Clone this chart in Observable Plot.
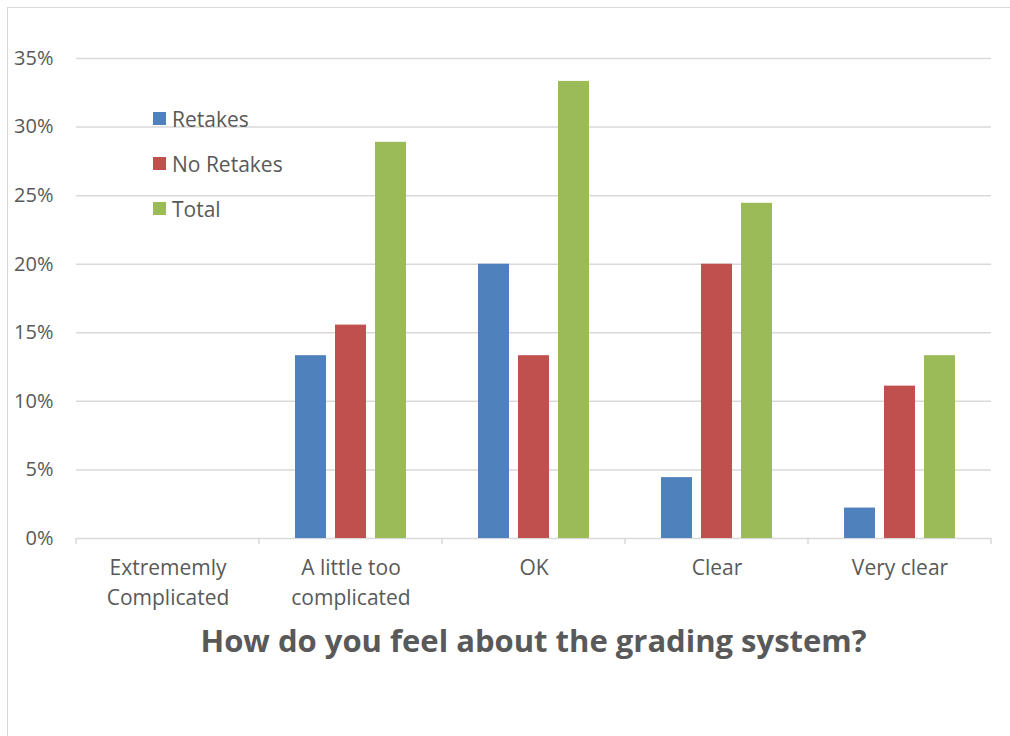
<!DOCTYPE html>
<html>
<head>
<meta charset="utf-8">
<script src="https://cdn.jsdelivr.net/npm/d3@7"></script>
<script src="https://cdn.jsdelivr.net/npm/@observablehq/plot@0.6"></script>
<style>
  html, body { margin: 0; padding: 0; background: #fff; overflow: hidden; }
  body { width: 1010px; height: 736px; position: relative; font-family: "Open Sans", sans-serif; color: #595959; }
  #border { position: absolute; left: 7px; top: 7px; width: 1100px; height: 800px;
            border-left: 1.5px solid #d9d9d9; border-top: 1.5px solid #d9d9d9; }
  #chart { position: absolute; left: 0; top: 0; }
  #title { position: absolute; left: 75px; width: 917px; top: 619px; text-align: center;
           font-weight: 700; font-size: 31px; color: #595959; }
  #legend { position: absolute; left: 153px; top: 105px; font-size: 21px; color: #595959; }
  .item { display: flex; align-items: center; height: 45px; margin-top: 0; }
  .item:first-child { margin-top: -9px; }
  .swatch { width: 13px; height: 13px; margin-right: 6px; }
</style>
</head>
<body>
<div id="border"></div>
<div id="chart"></div>
<div id="legend"></div>
<div id="title">How do you feel about the grading system?</div>
<script>
// Survey answers, share of respondents per group
const categories = ["Extrememly\nComplicated", "A little too\ncomplicated", "OK", "Clear", "Very clear"];
const seriesNames = ["Retakes", "No Retakes", "Total"];
const retakes   = [0, 0.1333, 0.2000, 0.0444, 0.0222];
const noRetakes = [0, 0.1556, 0.1333, 0.2000, 0.1111];
const total     = [0, 0.2889, 0.3333, 0.2444, 0.1333];
const colors = ["#4F81BD", "#C0504D", "#9BBB59"];
const yTicks = [0, 0.05, 0.10, 0.15, 0.20, 0.25, 0.30, 0.35];

const seriesValues = [retakes, noRetakes, total];
const rows = [];
categories.forEach((c, i) => {
  seriesNames.forEach((s, j) => rows.push({category: c, series: s, value: seriesValues[j][i]}));
});

const W = 1010, H = 620;
const chart = Plot.plot({
  width: W,
  height: H,
  marginLeft: 75,
  marginRight: 18,
  marginTop: 58,
  marginBottom: 82,
  style: {fontFamily: "'Open Sans', sans-serif", fontSize: "20px", color: "#595959", background: "transparent"},
  fx: {domain: categories, padding: 0, label: null},
  x: {domain: seriesNames, paddingInner: 0.22, paddingOuter: 0.847, axis: null},
  y: {domain: [0, 0.35], axis: null},
  color: {domain: seriesNames, range: colors},
  marks: [
    Plot.ruleY(yTicks, {y: d => d, stroke: "#d9d9d9", strokeWidth: 1.5}),
    Plot.barY(rows, {fx: "category", x: "series", y: "value", fill: "series"}),
    Plot.axisY({ticks: yTicks, tickFormat: d3.format(".0%"), tickSize: 0, tickPadding: 23,
                fontSize: 20, fill: "#595959", label: null}),
    Plot.axisFx({anchor: "bottom", tickSize: 0, tickPadding: 16, fontSize: 21,
                 lineHeight: 1.4, fill: "#595959", label: null})
  ]
});
document.getElementById("chart").appendChild(chart);

// Category divider ticks along the baseline, placed with the facet scale
const fx = chart.scale("fx");
const yBase = H - 82;
const svg = d3.select(chart);
const edges = categories.map(c => fx.apply(c));
edges.push(edges[edges.length - 1] + fx.step);
svg.append("g").selectAll("line").data(edges).join("line")
  .attr("x1", d => d).attr("x2", d => d)
  .attr("y1", yBase).attr("y2", yBase + 6)
  .attr("stroke", "#d9d9d9").attr("stroke-width", 1.5);

// Legend inside the plot area
const legend = d3.select("#legend");
seriesNames.forEach((s, i) => {
  const item = legend.append("div").attr("class", "item");
  item.append("div").attr("class", "swatch").style("background", colors[i]);
  item.append("span").text(s);
});
</script>
</body>
</html>
